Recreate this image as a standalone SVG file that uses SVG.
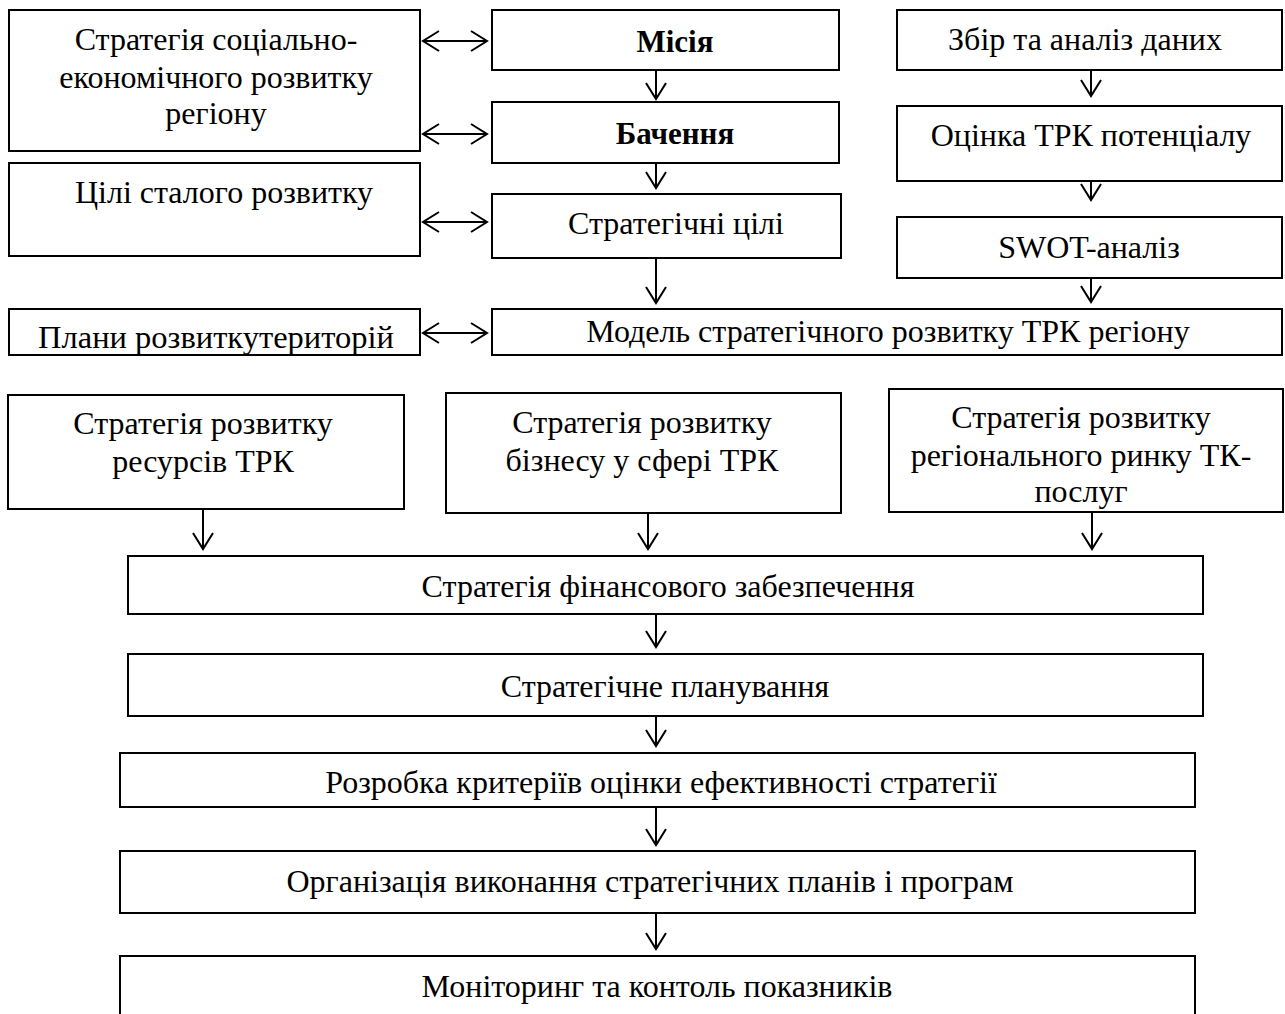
<svg xmlns="http://www.w3.org/2000/svg" width="1285" height="1014" viewBox="0 0 1285 1014">
<defs>
<style>
.box{fill:#fff;stroke:#000;stroke-width:2}
.t{font-family:"Liberation Serif","Times New Roman",serif;font-size:32px;fill:#000;text-anchor:middle}
.b{font-weight:bold;font-size:31px}
.c{fill:none;stroke:#000;stroke-width:2}
</style>
<marker id="ah" markerUnits="userSpaceOnUse" markerWidth="22" markerHeight="24" refX="17" refY="11" orient="auto-start-reverse" viewBox="0 0 22 24">
<path d="M1,1 L17,11 L1,21" fill="none" stroke="#000" stroke-width="2"/>
</marker>
</defs>
<rect width="1285" height="1014" fill="#fff"/>

<g id="n-strat-soc"><rect class="box" x="9" y="10" width="411" height="141"/>
<text class="t" x="216" y="50">Стратегія соціально-</text>
<text class="t" x="216" y="88">економічного розвитку</text>
<text class="t" x="216" y="124">регіону</text></g>
<g id="n-tsili-rozv"><rect class="box" x="9" y="163" width="411" height="93"/>
<text class="t" x="224" y="203">Цілі сталого розвитку</text></g>
<g id="n-plany"><rect class="box" x="9" y="309" width="411" height="46"/>
<text class="t" x="216" y="348" style="font-size:32.5px">Плани розвиткутериторій</text></g>

<g id="n-misiya"><rect class="box" x="492" y="10" width="347" height="60"/>
<text class="t b" x="675" y="52">Місія</text></g>
<g id="n-bachennya"><rect class="box" x="492" y="102" width="347" height="61"/>
<text class="t b" x="675" y="144">Бачення</text></g>
<g id="n-strat-tsili"><rect class="box" x="492" y="194" width="349" height="64"/>
<text class="t" x="676" y="234">Стратегічні цілі</text></g>
<g id="n-model"><rect class="box" x="492" y="309" width="790" height="46"/>
<text class="t" x="888" y="342">Модель стратегічного розвитку ТРК регіону</text></g>

<g id="n-zbir"><rect class="box" x="897" y="10" width="385" height="60"/>
<text class="t" x="1085" y="50">Збір та аналіз даних</text></g>
<g id="n-otsinka"><rect class="box" x="897" y="106" width="385" height="75"/>
<text class="t" x="1091" y="146">Оцінка ТРК потенціалу</text></g>
<g id="n-swot"><rect class="box" x="897" y="217" width="385" height="61"/>
<text class="t" x="1089" y="258">SWOT-аналіз</text></g>

<g id="n-resursy"><rect class="box" x="8" y="395" width="396" height="114"/>
<text class="t" x="203" y="434">Стратегія розвитку</text>
<text class="t" x="203" y="472">ресурсів ТРК</text></g>
<g id="n-biznes"><rect class="box" x="446" y="393" width="395" height="120"/>
<text class="t" x="642" y="433">Стратегія розвитку</text>
<text class="t" x="642" y="471">бізнесу у сфері ТРК</text></g>
<g id="n-rynok"><rect class="box" x="889" y="389" width="394" height="123"/>
<text class="t" x="1081" y="428">Стратегія розвитку</text>
<text class="t" x="1081" y="466">регіонального ринку ТК-</text>
<text class="t" x="1081" y="502">послуг</text></g>

<g id="n-finans"><rect class="box" x="128" y="556" width="1075" height="58"/>
<text class="t" x="668" y="597">Стратегія фінансового забезпечення</text></g>
<g id="n-planuv"><rect class="box" x="128" y="654" width="1075" height="62"/>
<text class="t" x="665" y="697">Стратегічне планування</text></g>
<g id="n-rozrobka"><rect class="box" x="120" y="753" width="1075" height="54"/>
<text class="t" x="661" y="793">Розробка критеріїв оцінки ефективності стратегії</text></g>
<g id="n-organiz"><rect class="box" x="120" y="851" width="1075" height="62"/>
<text class="t" x="650" y="892">Організація виконання стратегічних планів і програм</text></g>
<g id="n-monitor"><rect class="box" x="120" y="956" width="1075" height="70"/>
<text class="t" x="657" y="997">Моніторинг та контоль показників</text></g>

<g id="connectors">
<line class="c" x1="423" y1="41" x2="487" y2="41" marker-start="url(#ah)" marker-end="url(#ah)"/>
<line class="c" x1="423" y1="134" x2="487" y2="134" marker-start="url(#ah)" marker-end="url(#ah)"/>
<line class="c" x1="423" y1="222" x2="487" y2="222" marker-start="url(#ah)" marker-end="url(#ah)"/>
<line class="c" x1="423" y1="333" x2="487" y2="333" marker-start="url(#ah)" marker-end="url(#ah)"/>
<line class="c" x1="656" y1="70" x2="656" y2="99" marker-end="url(#ah)"/>
<line class="c" x1="656" y1="163" x2="656" y2="188" marker-end="url(#ah)"/>
<line class="c" x1="656" y1="258" x2="656" y2="303" marker-end="url(#ah)"/>
<line class="c" x1="1091" y1="70" x2="1091" y2="96" marker-end="url(#ah)"/>
<line class="c" x1="1091" y1="181" x2="1091" y2="200" marker-end="url(#ah)"/>
<line class="c" x1="1091" y1="278" x2="1091" y2="302" marker-end="url(#ah)"/>
<line class="c" x1="203" y1="509" x2="203" y2="549" marker-end="url(#ah)"/>
<line class="c" x1="648" y1="513" x2="648" y2="549" marker-end="url(#ah)"/>
<line class="c" x1="1092" y1="512" x2="1092" y2="549" marker-end="url(#ah)"/>
<line class="c" x1="656" y1="614" x2="656" y2="647" marker-end="url(#ah)"/>
<line class="c" x1="656" y1="716" x2="656" y2="746" marker-end="url(#ah)"/>
<line class="c" x1="656" y1="807" x2="656" y2="845" marker-end="url(#ah)"/>
<line class="c" x1="656" y1="913" x2="656" y2="949" marker-end="url(#ah)"/>
</g>
</svg>
